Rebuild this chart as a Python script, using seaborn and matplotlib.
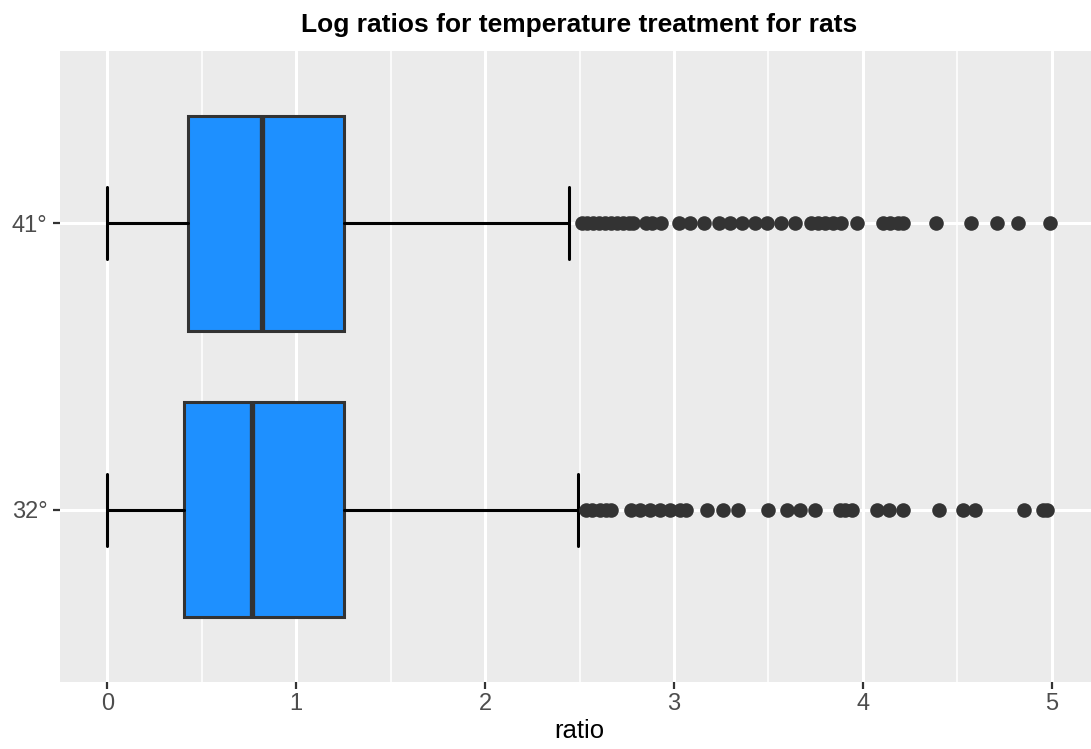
import matplotlib
matplotlib.use("Agg")
import matplotlib.pyplot as plt
import pandas as pd
import seaborn as sns

# Temperature groups (bottom to top) and their box summaries
categories = ["32°", "41°"]
q1 = [0.407, 0.429]
medians = [0.767, 0.820]
q3 = [1.254, 1.254]
whisker_low = [0.0, 0.0]
whisker_high = [2.49, 2.444]

# Points beyond the upper whisker
outliers_32 = [2.534, 2.566, 2.608, 2.640, 2.667, 2.772, 2.820, 2.873, 2.926,
               2.979, 3.032, 3.063, 3.175, 3.259, 3.339, 3.497, 3.598, 3.667,
               3.746, 3.878, 3.905, 3.942, 4.074, 4.138, 4.212, 4.402, 4.529,
               4.593, 4.852, 4.952, 4.974]
outliers_41 = [2.513, 2.540, 2.571, 2.603, 2.635, 2.667, 2.698, 2.730, 2.762,
               2.783, 2.852, 2.884, 2.931, 3.026, 3.085, 3.159, 3.238, 3.296,
               3.360, 3.429, 3.492, 3.566, 3.640, 3.725, 3.762, 3.799, 3.841,
               3.884, 3.968, 4.106, 4.143, 4.185, 4.212, 4.386, 4.571, 4.709,
               4.820, 4.989]

x_ticks = [0, 1, 2, 3, 4, 5]
x_minor = [0.5, 1.5, 2.5, 3.5, 4.5]

sns.set_theme(style="darkgrid", rc={
    "axes.facecolor": "#EBEBEB",
    "grid.color": "white",
    "axes.edgecolor": "none",
    "text.color": "black",
    "axes.labelcolor": "black",
})
plt.rcParams["font.family"] = ["Liberation Sans", "DejaVu Sans"]

W, H = 1091, 749
fig = plt.figure(figsize=(W / 100, H / 100), dpi=100)
fig.patch.set_facecolor("white")
ax = fig.add_axes([60 / W, 67 / H, 1039 / W, 631 / H])
ax.set_facecolor("#EBEBEB")

positions = [1, 2]
stats = [
    dict(med=medians[i], q1=q1[i], q3=q3[i], whislo=whisker_low[i],
         whishi=whisker_high[i], fliers=[], label=categories[i])
    for i in range(len(categories))
]
ax.bxp(stats, positions=positions, widths=0.75, orientation="horizontal",
       patch_artist=True, showfliers=False, capwidths=0.25, manage_ticks=False,
       boxprops=dict(facecolor="#1E90FF", edgecolor="#333333", linewidth=2.2),
       medianprops=dict(color="#333333", linewidth=3.8, solid_capstyle="butt"),
       whiskerprops=dict(color="black", linewidth=2.2),
       capprops=dict(color="black", linewidth=2.2))

pts = pd.DataFrame({
    "ratio": outliers_32 + outliers_41,
    "pos": [positions[0]] * len(outliers_32) + [positions[1]] * len(outliers_41),
})
sns.scatterplot(data=pts, x="ratio", y="pos", color="#333333", s=110,
                linewidth=0, ax=ax, zorder=3)

ax.set_xlim(-0.25, 5.25)
ax.set_ylim(0.4, 2.6)
ax.set_xticks(x_ticks)
ax.set_xticklabels([str(t) for t in x_ticks])
ax.set_xticks(x_minor, minor=True)
ax.set_yticks(positions)
ax.set_yticklabels(categories)
ax.grid(True, which="major", color="white", linewidth=2.2)
ax.grid(True, which="minor", axis="x", color="white", linewidth=1.1)
ax.set_axisbelow(True)
for s in ax.spines.values():
    s.set_visible(False)

ax.tick_params(axis="both", which="major", length=5, width=1.6,
               color="#333333", labelcolor="#4D4D4D", labelsize=17)
ax.tick_params(axis="x", which="major", pad=3, bottom=True)
ax.tick_params(axis="y", which="major", pad=4, left=True)
ax.tick_params(which="minor", length=0)

ax.set_xlabel("ratio", fontsize=18.5, color="black", labelpad=3)
ax.set_ylabel("")
ax.set_title("Log ratios for temperature treatment for rats",
             fontsize=19, fontweight="bold", color="black", pad=14)

fig.savefig("out.png", dpi=100)
